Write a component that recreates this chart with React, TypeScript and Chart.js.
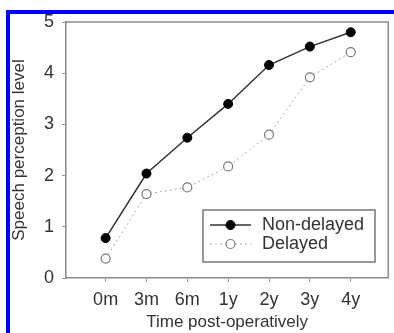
import React, { useEffect, useRef } from "react";
import { Chart, registerables } from "chart.js";

Chart.register(...registerables);

const categories = ["0m", "3m", "6m", "1y", "2y", "3y", "4y"];
const nonDelayed = [0.78, 2.04, 2.74, 3.4, 4.16, 4.52, 4.8];
const delayed = [0.38, 1.64, 1.77, 2.18, 2.8, 3.92, 4.41];
const seriesLabels = ["Non-delayed", "Delayed"];
const yTicks = [0, 1, 2, 3, 4, 5];

const FONT = "'Liberation Sans', Arial, sans-serif";

const framePlugin = {
  id: "frame",
  afterDraw(chart: any) {
    const { ctx, chartArea } = chart;
    ctx.save();
    ctx.strokeStyle = "#8a8a8a";
    ctx.lineWidth = 1.5;
    ctx.beginPath();
    ctx.moveTo(chartArea.left, chartArea.top);
    ctx.lineTo(chartArea.right, chartArea.top);
    ctx.lineTo(chartArea.right, chartArea.bottom);
    ctx.stroke();

    // legend box inside plot
    const bx = 203, by = 210, bw = 172, bh = 52;
    ctx.fillStyle = "#fff";
    ctx.fillRect(bx, by, bw, bh);
    ctx.strokeStyle = "#777";
    ctx.lineWidth = 1.5;
    ctx.strokeRect(bx, by, bw, bh);
    const rows = [225, 244];
    chart.data.datasets.forEach((ds: any, i: number) => {
      const y = rows[i];
      ctx.save();
      ctx.strokeStyle = ds.borderColor;
      ctx.lineWidth = ds.borderWidth;
      ctx.setLineDash(ds.borderDash || []);
      ctx.beginPath();
      ctx.moveTo(210, y);
      ctx.lineTo(251, y);
      ctx.stroke();
      ctx.setLineDash([]);
      ctx.beginPath();
      ctx.arc(230.5, y, ds.pointRadius, 0, Math.PI * 2);
      ctx.fillStyle = ds.pointBackgroundColor;
      ctx.fill();
      ctx.strokeStyle = ds.pointBorderColor;
      ctx.lineWidth = ds.pointBorderWidth;
      ctx.stroke();
      ctx.restore();
      ctx.fillStyle = "#333";
      ctx.font = `18px ${FONT}`;
      ctx.textAlign = "left";
      ctx.textBaseline = "middle";
      ctx.fillText(ds.label, 262, y);
    });
    ctx.restore();
  },
};

export default function App() {
  const ref = useRef<HTMLCanvasElement>(null);
  useEffect(() => {
    const canvas = ref.current!;
    const chart = new Chart(canvas, {
      type: "line",
      data: {
        datasets: [
          {
            label: seriesLabels[0],
            data: nonDelayed.map((v, i) => ({ x: i, y: v })),
            borderColor: "#333",
            borderWidth: 1.5,
            pointRadius: 4.5,
            pointBackgroundColor: "#000",
            pointBorderColor: "#000",
            pointBorderWidth: 1,
            tension: 0,
          },
          {
            label: seriesLabels[1],
            data: delayed.map((v, i) => ({ x: i, y: v })),
            borderColor: "#aaa",
            borderWidth: 1,
            borderDash: [2, 3],
            pointRadius: 4.5,
            pointBackgroundColor: "#fff",
            pointBorderColor: "#777",
            pointBorderWidth: 1.2,
            tension: 0,
          },
        ],
      },
      options: {
        animation: false,
        responsive: false,
        devicePixelRatio: 1,
        layout: { padding: { top: 22, right: 3, left: 0, bottom: 0 } },
        plugins: { legend: { display: false }, tooltip: { enabled: false } },
        scales: {
          x: {
            type: "linear",
            min: -0.97,
            max: 6.92,
            afterBuildTicks: (s: any) => {
              s.ticks = categories.map((_, i) => ({ value: i }));
            },
            afterFit: (s: any) => {
              s.height = 55;
            },
            ticks: {
              callback: (v: any) => categories[v] ?? "",
              font: { family: FONT, size: 18 },
              color: "#333",
              padding: 7,
              maxRotation: 0,
              autoSkip: false,
            },
            grid: {
              display: true,
              drawOnChartArea: false,
              drawTicks: true,
              tickLength: 4,
              color: "#999",
            },
            border: { display: true, color: "#8a8a8a", width: 1.5 },
            title: {
              display: true,
              text: "Time post-operatively",
              font: { family: FONT, size: 17 },
              color: "#333",
              padding: { top: 0, bottom: 0 },
            },
          },
          y: {
            min: 0,
            max: 5,
            afterBuildTicks: (s: any) => {
              s.ticks = yTicks.map((v) => ({ value: v }));
            },
            afterFit: (s: any) => {
              s.width = 66;
            },
            ticks: {
              font: { family: FONT, size: 18 },
              color: "#333",
              padding: 8,
            },
            grid: {
              display: true,
              drawOnChartArea: false,
              drawTicks: true,
              tickLength: 4,
              color: "#999",
            },
            border: { display: true, color: "#8a8a8a", width: 1.5 },
            title: {
              display: true,
              text: "Speech perception level",
              font: { family: FONT, size: 17 },
              color: "#333",
              padding: { top: 9, bottom: 0 },
            },
          },
        },
      },
      plugins: [framePlugin],
    });
    return () => chart.destroy();
  }, []);

  return (
    <div style={{ position: "fixed", left: 0, top: 0, width: 394, height: 333, background: "#fff", overflow: "hidden" }}>
      <canvas ref={ref} width={394} height={333} style={{ position: "absolute", left: 0, top: 0, width: 394, height: 333 }} />
      <div style={{ position: "absolute", left: 6, top: 10, width: 388, height: 4, background: "#0000ff" }} />
      <div style={{ position: "absolute", left: 6, top: 10, width: 4, height: 323, background: "#0000ff" }} />
    </div>
  );
}
